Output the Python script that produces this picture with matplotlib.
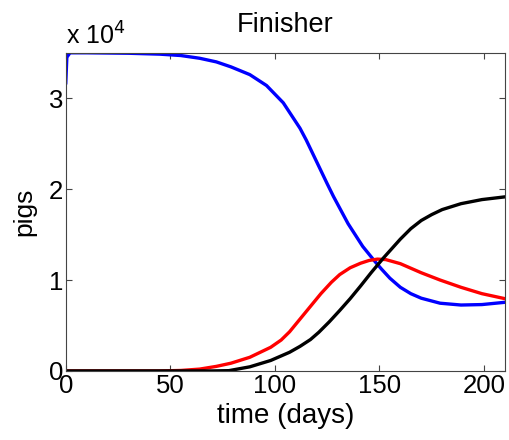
import numpy as np
import matplotlib.pyplot as plt
from matplotlib.ticker import FuncFormatter

plt.rcParams['font.family'] = ['Liberation Sans', 'DejaVu Sans']

# DATA (pigs)
t_blue = [0, 0.5, 2, 10, 30, 45, 55, 64, 72, 79, 88, 96, 104, 112, 115, 120, 125, 128, 135, 142, 148, 151, 155,
          160, 165, 170, 179, 189, 199, 210]
blue = [31700, 34500, 35000, 35000, 34950, 34850, 34700, 34400, 34000, 33450, 32600, 31400, 29500, 26700, 25400,
        23000, 20600, 19200, 16200, 13700, 12000, 11200, 10200, 9200, 8500, 8000, 7450, 7250, 7300, 7550]

t_red = [0, 45, 55, 64, 72, 79, 88, 98, 103, 107, 112, 117, 122, 127, 131, 136, 141, 145, 149, 153, 160, 170, 179,
         189, 199, 210]
red = [0, 0, 50, 200, 500, 850, 1500, 2600, 3400, 4300, 5700, 7100, 8500, 9750, 10600, 11350, 11850, 12150, 12300,
       12250, 11800, 10800, 10000, 9200, 8500, 7950]

t_black = [0, 70, 78, 88, 98, 107, 112, 117, 121, 126, 131, 136, 141, 146, 152, 160, 165, 170, 175, 180, 189, 199,
           210]
black = [0, 0, 30, 450, 1150, 2050, 2700, 3450, 4250, 5400, 6650, 7950, 9350, 10800, 12450, 14500, 15650, 16550,
         17200, 17750, 18400, 18850, 19150]

fig = plt.figure(figsize=(5.1, 4.4), dpi=100)
ax = fig.add_axes([0.129, 0.157, 0.861, 0.723])

ax.plot(t_blue, blue, color='#0000ff', lw=2.4, solid_joinstyle='round')
ax.plot(t_red, red, color='#ff0000', lw=2.4, solid_joinstyle='round')
ax.plot(t_black, black, color='black', lw=2.4, solid_joinstyle='round')

ax.set_xlim(0, 210)
ax.set_ylim(0, 35000)
ax.set_xticks([0, 50, 100, 150, 200])
ax.set_yticks([0, 10000, 20000, 30000])
ax.yaxis.set_major_formatter(FuncFormatter(lambda v, p: '%d' % (v / 1e4)))
ax.tick_params(direction='in', top=True, right=True, labelsize=18.5, length=4, color='#444444', pad=2)
for s in ax.spines.values():
    s.set_color('#444444')

ax.set_xlabel('time (days)', fontsize=20, labelpad=4)
ax.set_ylabel('pigs', fontsize=19, labelpad=9)
ax.set_title('Finisher', fontsize=19.5, pad=15)
ax.text(0, 1.025, 'x 10$^4$', transform=ax.transAxes, fontsize=18, ha='left', va='baseline')

fig.savefig('out.png', dpi=100)
